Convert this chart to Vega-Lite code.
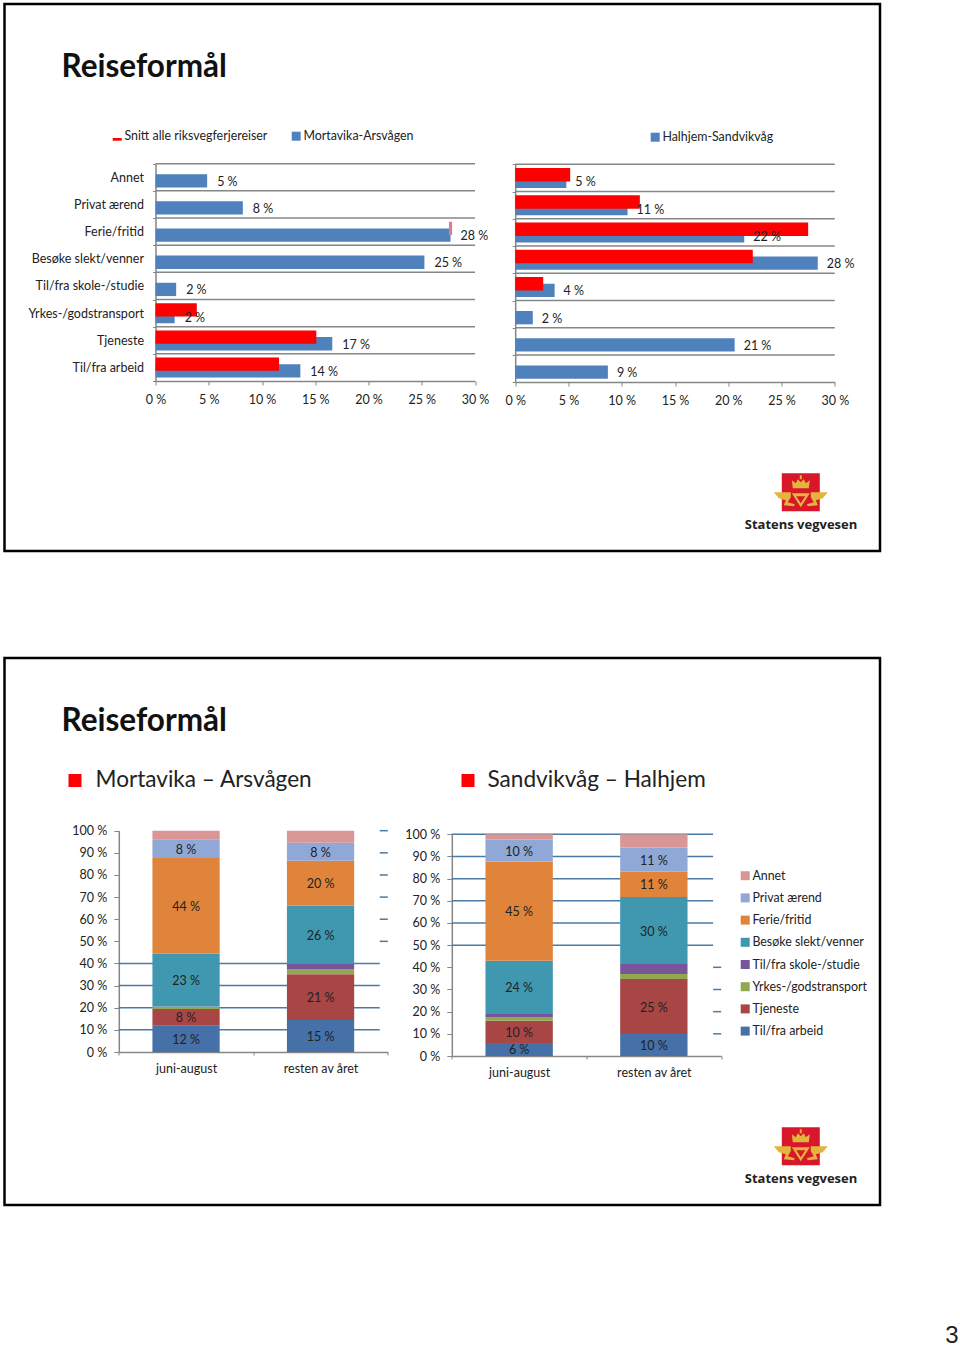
{
"$schema":"https://vega.github.io/schema/vega-lite/v6.json",
"padding":{"left":2.5,"top":-4,"right":0,"bottom":0},
"background":"white",
"config":{"view":{"stroke":null},"font":"Lato","axis":{"grid":false,"labelFont":"Lato","labelFontSize":12.5,"labelColor":"#222222","domainColor":"#868686","tickColor":"#868686","domainWidth":1.5,"tickWidth":1,"labelAngle":0,"labelFlush":false},"legend":{"labelFont":"Lato","labelFontSize":12.4,"labelColor":"#222222"},"text":{"font":"Lato","fontSize":12.5,"color":"#222222"}},
"datasets":{
"cats":[{"cat":"Annet"},{"cat":"Privat ærend"},{"cat":"Ferie/fritid"},{"cat":"Besøke slekt/venner"},{"cat":"Til/fra skole-/studie"},{"cat":"Yrkes-/godstransport"},{"cat":"Tjeneste"},{"cat":"Til/fra arbeid"}],
"mortavika":[{"route":"Mortavika-Arsvågen","cat":"Annet","value":4.85,"label":"5 %"},{"route":"Mortavika-Arsvågen","cat":"Privat ærend","value":8.2,"label":"8 %"},{"route":"Mortavika-Arsvågen","cat":"Ferie/fritid","value":27.7,"label":"28 %"},{"route":"Mortavika-Arsvågen","cat":"Besøke slekt/venner","value":25.25,"label":"25 %"},{"route":"Mortavika-Arsvågen","cat":"Til/fra skole-/studie","value":1.94,"label":"2 %"},{"route":"Mortavika-Arsvågen","cat":"Yrkes-/godstransport","value":1.8,"label":"2 %"},{"route":"Mortavika-Arsvågen","cat":"Tjeneste","value":16.6,"label":"17 %"},{"route":"Mortavika-Arsvågen","cat":"Til/fra arbeid","value":13.6,"label":"14 %"}],
"halhjem":[{"route":"Halhjem-Sandvikvåg","cat":"Annet","value":4.8,"label":"5 %"},{"route":"Halhjem-Sandvikvåg","cat":"Privat ærend","value":10.55,"label":"11 %"},{"route":"Halhjem-Sandvikvåg","cat":"Ferie/fritid","value":21.5,"label":"22 %"},{"route":"Halhjem-Sandvikvåg","cat":"Besøke slekt/venner","value":28.4,"label":"28 %"},{"route":"Halhjem-Sandvikvåg","cat":"Til/fra skole-/studie","value":3.7,"label":"4 %"},{"route":"Halhjem-Sandvikvåg","cat":"Yrkes-/godstransport","value":1.65,"label":"2 %"},{"route":"Halhjem-Sandvikvåg","cat":"Tjeneste","value":20.6,"label":"21 %"},{"route":"Halhjem-Sandvikvåg","cat":"Til/fra arbeid","value":8.7,"label":"9 %"}],
"snittLeft":[{"route":"Snitt alle riksvegferjereiser","cat":"Yrkes-/godstransport","value":3.88},{"route":"Snitt alle riksvegferjereiser","cat":"Tjeneste","value":15.1},{"route":"Snitt alle riksvegferjereiser","cat":"Til/fra arbeid","value":11.6}],
"snittRight":[{"cat":"Annet","value":5.16},{"cat":"Privat ærend","value":11.7},{"cat":"Ferie/fritid","value":27.5},{"cat":"Besøke slekt/venner","value":22.3},{"cat":"Til/fra skole-/studie","value":2.63}],
"mort2":[
{"period":"juni-august","cat":"Til/fra arbeid","rank":1,"value":11.9,"label":"12 %"},{"period":"juni-august","cat":"Tjeneste","rank":2,"value":7.5,"label":"8 %"},{"period":"juni-august","cat":"Yrkes-/godstransport","rank":3,"value":1.1,"label":""},{"period":"juni-august","cat":"Til/fra skole-/studie","rank":4,"value":0.1,"label":""},{"period":"juni-august","cat":"Besøke slekt/venner","rank":5,"value":23.8,"label":"23 %"},{"period":"juni-august","cat":"Ferie/fritid","rank":6,"value":43.3,"label":"44 %"},{"period":"juni-august","cat":"Privat ærend","rank":7,"value":8.4,"label":"8 %"},{"period":"juni-august","cat":"Annet","rank":8,"value":3.9,"label":""},
{"period":"resten av året","cat":"Til/fra arbeid","rank":1,"value":14.5,"label":"15 %"},{"period":"resten av året","cat":"Tjeneste","rank":2,"value":20.6,"label":"21 %"},{"period":"resten av året","cat":"Yrkes-/godstransport","rank":3,"value":2.2,"label":""},{"period":"resten av året","cat":"Til/fra skole-/studie","rank":4,"value":2.5,"label":""},{"period":"resten av året","cat":"Besøke slekt/venner","rank":5,"value":26.3,"label":"26 %"},{"period":"resten av året","cat":"Ferie/fritid","rank":6,"value":20.3,"label":"20 %"},{"period":"resten av året","cat":"Privat ærend","rank":7,"value":8.2,"label":"8 %"},{"period":"resten av året","cat":"Annet","rank":8,"value":5.4,"label":""}],
"sand2":[
{"period":"juni-august","cat":"Til/fra arbeid","rank":1,"value":5.9,"label":"6 %"},{"period":"juni-august","cat":"Tjeneste","rank":2,"value":10,"label":"10 %"},{"period":"juni-august","cat":"Yrkes-/godstransport","rank":3,"value":1.7,"label":""},{"period":"juni-august","cat":"Til/fra skole-/studie","rank":4,"value":1.3,"label":""},{"period":"juni-august","cat":"Besøke slekt/venner","rank":5,"value":24.1,"label":"24 %"},{"period":"juni-august","cat":"Ferie/fritid","rank":6,"value":44.7,"label":"45 %"},{"period":"juni-august","cat":"Privat ærend","rank":7,"value":9.9,"label":"10 %"},{"period":"juni-august","cat":"Annet","rank":8,"value":2.4,"label":""},
{"period":"resten av året","cat":"Til/fra arbeid","rank":1,"value":9.9,"label":"10 %"},{"period":"resten av året","cat":"Tjeneste","rank":2,"value":24.8,"label":"25 %"},{"period":"resten av året","cat":"Yrkes-/godstransport","rank":3,"value":2.3,"label":""},{"period":"resten av året","cat":"Til/fra skole-/studie","rank":4,"value":4.5,"label":""},{"period":"resten av året","cat":"Besøke slekt/venner","rank":5,"value":30.2,"label":"30 %"},{"period":"resten av året","cat":"Ferie/fritid","rank":6,"value":11.5,"label":"11 %"},{"period":"resten av året","cat":"Privat ærend","rank":7,"value":10.8,"label":"11 %"},{"period":"resten av året","cat":"Annet","rank":8,"value":6,"label":""}],
"gridLow":[{"v":10},{"v":20},{"v":30},{"v":40}],
"gridHigh":[{"v":50},{"v":60},{"v":70},{"v":80},{"v":90},{"v":100}]
},
"vconcat":[
{"width":875.5,"height":547,"view":{"stroke":"#000000","strokeWidth":2.5},
"resolve":{"scale":{"x":"independent","y":"independent","color":"independent"},"legend":{"color":"independent"}},
"layer":[
{"data":{"values":[{"t":"Reiseformål"}]},"mark":{"type":"text","align":"left","baseline":"middle","fontSize":31.5,"fontWeight":"bold","font":"Lato","color":"#111111"},"encoding":{"text":{"field":"t"},"x":{"datum":0,"type":"quantitative","axis":null,"scale":{"domain":[0,1],"range":[57,876]}},"y":{"datum":0,"type":"quantitative","axis":null,"scale":{"domain":[0,1],"range":[64,547]}}}},
{"data":{"name":"cats"},"mark":{"type":"rule","stroke":"#868686","strokeWidth":1.5},"encoding":{"y":{"field":"cat","type":"nominal","bandPosition":0,"axis":null,"sort":null,"scale":{"type":"band","range":[159.7,377],"paddingInner":0,"paddingOuter":0}},"x":{"datum":0,"type":"quantitative","axis":null,"scale":{"domain":[0,30],"range":[151,470.5]}},"x2":{"datum":30}}},
{"data":{"name":"mortavika"},"mark":{"type":"bar","height":{"band":0.49}},"encoding":{"y":{"field":"cat","type":"nominal","sort":null,"title":null,"scale":{"type":"band","range":[163.2,380.5],"paddingInner":0,"paddingOuter":0},"axis":null},"x":{"field":"value","type":"quantitative","title":null,"scale":{"domain":[0,30],"range":[151,470.5]},"axis":{"orient":"bottom","offset":-170,"values":[0,5,10,15,20,25,30],"labelExpr":"datum.value + ' %'","tickSize":4,"labelPadding":8}},"color":{"field":"route","type":"nominal","scale":{"range":["#4f81bd"]},"legend":{"orient":"none","legendX":285.5,"legendY":126,"title":null,"symbolType":"square","symbolSize":81,"padding":0,"labelOffset":1}}}},
{"data":{"name":"cats"},"mark":{"type":"rule","opacity":0},"encoding":{"y":{"field":"cat","type":"nominal","sort":null,"title":null,"scale":{"type":"band","range":[159.7,377],"paddingInner":0,"paddingOuter":0},"axis":{"orient":"left","offset":-151,"tickBand":"extent","tickSize":3,"labelPadding":9,"labelFontSize":12.5}}}},
{"data":{"name":"snittLeft"},"mark":{"type":"bar","height":{"band":0.49}},"encoding":{"y":{"field":"cat","type":"nominal","axis":null,"scale":{"type":"band","domain":["Annet","Privat ærend","Ferie/fritid","Besøke slekt/venner","Til/fra skole-/studie","Yrkes-/godstransport","Tjeneste","Til/fra arbeid"],"range":[156.5,373.8],"paddingInner":0,"paddingOuter":0}},"x":{"field":"value","type":"quantitative","axis":null,"scale":{"domain":[0,30],"range":[151,470.5]}},"color":{"field":"route","type":"nominal","scale":{"range":["#ff0000"]},"legend":{"orient":"none","legendX":106.5,"legendY":126,"title":null,"symbolType":"M-1,0.4H1V1H-1Z","symbolSize":81,"padding":0,"labelOffset":1}}}},
{"data":{"values":[{"cat":"Ferie/fritid"}]},"mark":{"type":"bar","height":{"band":0.49},"color":"#d9808c"},"encoding":{"y":{"field":"cat","type":"nominal","axis":null,"scale":{"type":"band","domain":["Annet","Privat ærend","Ferie/fritid","Besøke slekt/venner","Til/fra skole-/studie","Yrkes-/godstransport","Tjeneste","Til/fra arbeid"],"range":[156.5,373.8],"paddingInner":0,"paddingOuter":0}},"x":{"datum":27.55,"type":"quantitative","axis":null,"scale":{"domain":[0,30],"range":[151,470.5]}},"x2":{"datum":27.85}}},
{"data":{"name":"mortavika"},"mark":{"type":"text","align":"left","dx":10,"dy":1},"encoding":{"text":{"field":"label"},"y":{"field":"cat","type":"nominal","sort":null,"axis":null,"scale":{"type":"band","range":[163.2,380.5],"paddingInner":0,"paddingOuter":0}},"x":{"field":"value","type":"quantitative","axis":null,"scale":{"domain":[0,30],"range":[151,470.5]}}}},
{"data":{"name":"cats"},"mark":{"type":"rule","stroke":"#868686","strokeWidth":1.5},"encoding":{"y":{"field":"cat","type":"nominal","bandPosition":0,"axis":null,"sort":null,"scale":{"type":"band","range":[160.3,378.3],"paddingInner":0,"paddingOuter":0}},"x":{"datum":0,"type":"quantitative","axis":null,"scale":{"domain":[0,30],"range":[510.7,830.3]}},"x2":{"datum":30}}},
{"data":{"name":"halhjem"},"mark":{"type":"bar","height":{"band":0.49}},"encoding":{"y":{"field":"cat","type":"nominal","sort":null,"title":null,"scale":{"type":"band","range":[163.8,381.8],"paddingInner":0,"paddingOuter":0},"axis":null},"x":{"field":"value","type":"quantitative","title":null,"scale":{"domain":[0,30],"range":[510.7,830.3]},"axis":{"orient":"bottom","offset":-169,"values":[0,5,10,15,20,25,30],"labelExpr":"datum.value + ' %'","tickSize":4,"labelPadding":8}},"color":{"field":"route","type":"nominal","scale":{"range":["#4f81bd"]},"legend":{"orient":"none","legendX":644.5,"legendY":127,"title":null,"symbolType":"square","symbolSize":81,"padding":0,"labelOffset":1}}}},
{"data":{"name":"cats"},"mark":{"type":"rule","opacity":0},"encoding":{"y":{"field":"cat","type":"nominal","sort":null,"title":null,"scale":{"type":"band","range":[160.3,378.3],"paddingInner":0,"paddingOuter":0},"axis":{"orient":"left","offset":-510.7,"tickBand":"extent","tickSize":3,"labels":false}}}},
{"data":{"name":"snittRight"},"mark":{"type":"bar","height":{"band":0.49},"color":"#ff0000"},"encoding":{"y":{"field":"cat","type":"nominal","axis":null,"scale":{"type":"band","domain":["Annet","Privat ærend","Ferie/fritid","Besøke slekt/venner","Til/fra skole-/studie","Yrkes-/godstransport","Tjeneste","Til/fra arbeid"],"range":[157.1,375.1],"paddingInner":0,"paddingOuter":0}},"x":{"field":"value","type":"quantitative","axis":null,"scale":{"domain":[0,30],"range":[510.7,830.3]}}}},
{"data":{"name":"halhjem"},"mark":{"type":"text","align":"left","dx":9,"dy":1},"encoding":{"text":{"field":"label"},"y":{"field":"cat","type":"nominal","sort":null,"axis":null,"scale":{"type":"band","range":[163.8,381.8],"paddingInner":0,"paddingOuter":0}},"x":{"field":"value","type":"quantitative","axis":null,"scale":{"domain":[0,30],"range":[510.7,830.3]}}}},
{"data":{"values":[{"t":"logo"}]},"mark":{"type":"point","shape":"square","filled":true,"size":1444,"opacity":1,"color":"#d8172b"},"encoding":{"x":{"datum":0,"type":"quantitative","axis":null,"scale":{"domain":[0,1],"range":[796.3,876]}},"y":{"datum":0,"type":"quantitative","axis":null,"scale":{"domain":[0,1],"range":[488.2,547]}}}},
{"data":{"values":[{"t":"logo"}]},"mark":{"type":"point","shape":"M-8,-4L-9,-12L-5,-9L-3,-13L0,-10L3,-13L5,-9L9,-12L8,-4ZM-1,-17H1V-13H-1ZM-9,1H9L0,15ZM-4.5,4L0,11L4.5,4ZM-27,0H-10V5L-13,10L-6,12L-7,14L-17,13L-15,8L-22,6ZM27,0H10V5L13,10L6,12L7,14L17,13L15,8L22,6Z","filled":true,"size":4,"opacity":1,"color":"#e3b53e"},"encoding":{"x":{"datum":0,"type":"quantitative","axis":null,"scale":{"domain":[0,1],"range":[796.3,876]}},"y":{"datum":0,"type":"quantitative","axis":null,"scale":{"domain":[0,1],"range":[488.2,547]}}}},
{"data":{"values":[{"t":"Statens vegvesen"}]},"mark":{"type":"text","align":"center","baseline":"middle","fontSize":13,"fontWeight":"bold","font":"Open Sans","color":"#222222"},"encoding":{"text":{"field":"t"},"x":{"datum":0,"type":"quantitative","axis":null,"scale":{"domain":[0,1],"range":[796.5,876]}},"y":{"datum":0,"type":"quantitative","axis":null,"scale":{"domain":[0,1],"range":[521,547]}}}}
]},
{"width":875.5,"height":547,"view":{"stroke":"#000000","strokeWidth":2.5},
"resolve":{"scale":{"x":"independent","y":"independent","color":"independent"},"legend":{"color":"independent"}},
"layer":[
{"data":{"values":[{"t":"Reiseformål"}]},"mark":{"type":"text","align":"left","baseline":"middle","fontSize":31.5,"fontWeight":"bold","font":"Lato","color":"#111111"},"encoding":{"text":{"field":"t"},"x":{"datum":0,"type":"quantitative","axis":null,"scale":{"domain":[0,1],"range":[57,876]}},"y":{"datum":0,"type":"quantitative","axis":null,"scale":{"domain":[0,1],"range":[64,547]}}}},
{"data":{"values":[{"t":"Mortavika – Arsvågen"}]},"mark":{"type":"point","shape":"square","filled":true,"size":169,"opacity":1,"color":"#ff0000"},"encoding":{"x":{"datum":0,"type":"quantitative","axis":null,"scale":{"domain":[0,1],"range":[70.5,876]}},"y":{"datum":0,"type":"quantitative","axis":null,"scale":{"domain":[0,1],"range":[122.5,547]}}}},
{"data":{"values":[{"t":"Mortavika – Arsvågen"}]},"mark":{"type":"text","align":"left","baseline":"middle","fontSize":22.6,"font":"Lato","color":"#222222"},"encoding":{"text":{"field":"t"},"x":{"datum":0,"type":"quantitative","axis":null,"scale":{"domain":[0,1],"range":[91,876]}},"y":{"datum":0,"type":"quantitative","axis":null,"scale":{"domain":[0,1],"range":[122,547]}}}},
{"data":{"values":[{"t":"Sandvikvåg – Halhjem"}]},"mark":{"type":"point","shape":"square","filled":true,"size":169,"opacity":1,"color":"#ff0000"},"encoding":{"x":{"datum":0,"type":"quantitative","axis":null,"scale":{"domain":[0,1],"range":[463.5,876]}},"y":{"datum":0,"type":"quantitative","axis":null,"scale":{"domain":[0,1],"range":[122.5,547]}}}},
{"data":{"values":[{"t":"Sandvikvåg – Halhjem"}]},"mark":{"type":"text","align":"left","baseline":"middle","fontSize":22.6,"font":"Lato","color":"#222222"},"encoding":{"text":{"field":"t"},"x":{"datum":0,"type":"quantitative","axis":null,"scale":{"domain":[0,1],"range":[483,876]}},"y":{"datum":0,"type":"quantitative","axis":null,"scale":{"domain":[0,1],"range":[122,547]}}}},
{"data":{"name":"gridLow"},"mark":{"type":"rule","stroke":"#4a7ba6","strokeWidth":1.5},"encoding":{"y":{"field":"v","type":"quantitative","axis":null,"scale":{"domain":[0,100],"range":[394,172.7]}},"x":{"datum":0,"type":"quantitative","axis":null,"scale":{"domain":[0,1],"range":[114.3,383.3]}},"x2":{"datum":0.97}}},
{"data":{"name":"gridHigh"},"mark":{"type":"rule","stroke":"#4a7ba6","strokeWidth":1.5},"encoding":{"y":{"field":"v","type":"quantitative","axis":null,"scale":{"domain":[0,100],"range":[394,172.7]}},"x":{"datum":0.97,"type":"quantitative","axis":null,"scale":{"domain":[0,1],"range":[114.3,383.3]}},"x2":{"datum":1}}},
{"data":{"name":"mort2"},"mark":{"type":"bar","width":{"band":0.5}},"encoding":{"x":{"field":"period","type":"nominal","title":null,"scale":{"type":"band","range":[114.3,383.3],"paddingInner":0,"paddingOuter":0},"axis":{"orient":"bottom","offset":-153,"tickBand":"extent","tickSize":3,"labelPadding":7}},"y":{"field":"value","type":"quantitative","stack":"zero","title":null,"scale":{"domain":[0,100],"range":[394,172.7]},"axis":{"orient":"left","offset":-114.3,"values":[0,10,20,30,40,50,60,70,80,90,100],"labelExpr":"datum.value + ' %'","tickSize":5,"labelPadding":7}},"order":{"field":"rank"},"color":{"field":"cat","type":"nominal","scale":{"domain":["Annet","Privat ærend","Ferie/fritid","Besøke slekt/venner","Til/fra skole-/studie","Yrkes-/godstransport","Tjeneste","Til/fra arbeid"],"range":["#d99694","#8fa8d6","#e0843c","#3f98b0","#77559b","#92a850","#a84646","#4570a8"]},"legend":{"orient":"none","legendX":734.5,"legendY":211.5,"title":null,"symbolType":"square","symbolSize":81,"padding":0,"labelOffset":1,"rowPadding":9.2,"symbolStrokeWidth":0}}}},
{"data":{"name":"mort2"},"mark":{"type":"text","dy":1},"encoding":{"text":{"field":"label"},"x":{"field":"period","type":"nominal","axis":null,"scale":{"type":"band","range":[114.3,383.3],"paddingInner":0,"paddingOuter":0}},"y":{"field":"value","type":"quantitative","stack":"zero","bandPosition":0.5,"axis":null,"scale":{"domain":[0,100],"range":[394,172.7]}},"order":{"field":"rank"}}},
{"data":{"name":"gridHigh"},"mark":{"type":"rule","stroke":"#4a7ba6","strokeWidth":1.5},"encoding":{"y":{"field":"v","type":"quantitative","axis":null,"scale":{"domain":[0,100],"range":[398,176.3]}},"x":{"datum":0,"type":"quantitative","axis":null,"scale":{"domain":[0,1],"range":[447.3,716.7]}},"x2":{"datum":0.97}}},
{"data":{"name":"gridLow"},"mark":{"type":"rule","stroke":"#4a7ba6","strokeWidth":1.5},"encoding":{"y":{"field":"v","type":"quantitative","axis":null,"scale":{"domain":[0,100],"range":[398,176.3]}},"x":{"datum":0.97,"type":"quantitative","axis":null,"scale":{"domain":[0,1],"range":[447.3,716.7]}},"x2":{"datum":1}}},
{"data":{"name":"sand2"},"mark":{"type":"bar","width":{"band":0.5}},"encoding":{"x":{"field":"period","type":"nominal","title":null,"scale":{"type":"band","range":[447.3,716.7],"paddingInner":0,"paddingOuter":0},"axis":{"orient":"bottom","offset":-149,"tickBand":"extent","tickSize":3,"labelPadding":7}},"y":{"field":"value","type":"quantitative","stack":"zero","title":null,"scale":{"domain":[0,100],"range":[398,176.3]},"axis":{"orient":"left","offset":-447.3,"values":[0,10,20,30,40,50,60,70,80,90,100],"labelExpr":"datum.value + ' %'","tickSize":5,"labelPadding":7}},"order":{"field":"rank"},"color":{"field":"cat","type":"nominal","legend":null,"scale":{"domain":["Annet","Privat ærend","Ferie/fritid","Besøke slekt/venner","Til/fra skole-/studie","Yrkes-/godstransport","Tjeneste","Til/fra arbeid"],"range":["#d99694","#8fa8d6","#e0843c","#3f98b0","#77559b","#92a850","#a84646","#4570a8"]}}}},
{"data":{"name":"sand2"},"mark":{"type":"text","dy":1},"encoding":{"text":{"field":"label"},"x":{"field":"period","type":"nominal","axis":null,"scale":{"type":"band","range":[447.3,716.7],"paddingInner":0,"paddingOuter":0}},"y":{"field":"value","type":"quantitative","stack":"zero","bandPosition":0.5,"axis":null,"scale":{"domain":[0,100],"range":[398,176.3]}},"order":{"field":"rank"}}},
{"data":{"values":[{"t":"logo"}]},"mark":{"type":"point","shape":"square","filled":true,"size":1444,"opacity":1,"color":"#d8172b"},"encoding":{"x":{"datum":0,"type":"quantitative","axis":null,"scale":{"domain":[0,1],"range":[796.3,876]}},"y":{"datum":0,"type":"quantitative","axis":null,"scale":{"domain":[0,1],"range":[488.2,547]}}}},
{"data":{"values":[{"t":"logo"}]},"mark":{"type":"point","shape":"M-8,-4L-9,-12L-5,-9L-3,-13L0,-10L3,-13L5,-9L9,-12L8,-4ZM-1,-17H1V-13H-1ZM-9,1H9L0,15ZM-4.5,4L0,11L4.5,4ZM-27,0H-10V5L-13,10L-6,12L-7,14L-17,13L-15,8L-22,6ZM27,0H10V5L13,10L6,12L7,14L17,13L15,8L22,6Z","filled":true,"size":4,"opacity":1,"color":"#e3b53e"},"encoding":{"x":{"datum":0,"type":"quantitative","axis":null,"scale":{"domain":[0,1],"range":[796.3,876]}},"y":{"datum":0,"type":"quantitative","axis":null,"scale":{"domain":[0,1],"range":[488.2,547]}}}},
{"data":{"values":[{"t":"Statens vegvesen"}]},"mark":{"type":"text","align":"center","baseline":"middle","fontSize":13,"fontWeight":"bold","font":"Open Sans","color":"#222222"},"encoding":{"text":{"field":"t"},"x":{"datum":0,"type":"quantitative","axis":null,"scale":{"domain":[0,1],"range":[796.5,876]}},"y":{"datum":0,"type":"quantitative","axis":null,"scale":{"domain":[0,1],"range":[521,547]}}}},
{"data":{"values":[{"t":"3"}]},"mark":{"type":"text","align":"center","baseline":"middle","fontSize":24,"font":"Liberation Sans","color":"#222222"},"encoding":{"text":{"field":"t"},"x":{"datum":0,"type":"quantitative","axis":null,"scale":{"domain":[0,1],"range":[947.5,955]}},"y":{"datum":0,"type":"quantitative","axis":null,"scale":{"domain":[0,1],"range":[678,690]}}}}
]}
],
"spacing":107,
"bounds":"flush"
}
